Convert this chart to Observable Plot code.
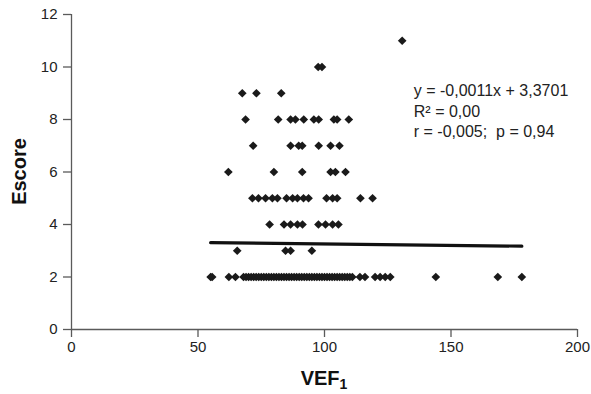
<!DOCTYPE html>
<html><head><meta charset="utf-8">
<script src="https://cdn.jsdelivr.net/npm/d3@7"></script>
<script src="https://cdn.jsdelivr.net/npm/@observablehq/plot@0.6"></script>
<style>body{margin:0;background:#fff} svg{display:block}</style>
</head><body><div id="chart"></div>
<script>
// VEF1 values for each Escore level
const vef_escore2 = [55, 55.6, 62.2, 64.8, 68, 69, 70, 71, 72, 73, 74, 75, 76, 77, 78, 79, 80, 81, 82, 83, 84, 85, 86, 87, 88, 89, 90, 91, 92, 93, 94, 95, 96, 97, 98, 99, 100, 101, 102, 103, 104, 105, 106, 107, 108, 109, 110, 111, 114, 116, 120, 122, 124, 126, 144, 168.5, 178];
const vef_escore3 = [65.5, 84.6, 86.6, 95];
const vef_escore4 = [78.3, 84, 86.6, 89.3, 91.3, 97.6, 100.4, 103.2, 105.5];
const vef_escore5 = [71.5, 73.9, 76.7, 79.4, 81.4, 85, 87.4, 89.3, 91.7, 93.7, 100.8, 103.2, 105, 114.2, 119];
const vef_escore6 = [62, 80, 91.2, 102.4, 104.3, 108.3];
const vef_escore7 = [71.8, 86.6, 89.8, 91.2, 97.7, 102.4, 105.9];
const vef_escore8 = [68.8, 81.7, 86.6, 88.5, 91.8, 95.8, 97.7, 103.7, 105, 109.6];
const vef_escore9 = [67.5, 73.1, 82.9];
const vef_escore10 = [97.5, 99];
const vef_escore11 = [130.7];

const escoreLevels = [2, 3, 4, 5, 6, 7, 8, 9, 10, 11];
const vefByLevel = [vef_escore2, vef_escore3, vef_escore4, vef_escore5, vef_escore6, vef_escore7, vef_escore8, vef_escore9, vef_escore10, vef_escore11];

// regression line
const fitSlope = -0.0011;
const fitIntercept = 3.3701;
const fitRange = [55, 178];

const xTicks = [0, 50, 100, 150, 200];
const yTicks = [0, 2, 4, 6, 8, 10, 12];
const annotationLines = ["y = -0,0011x + 3,3701", "R\u00B2 = 0,00", "r = -0,005;  p = 0,94"];
const xLabel = "VEF";
const xLabelSub = "1";
const yLabel = "Escore";

const points = escoreLevels.flatMap((s, i) => vefByLevel[i].map(v => ({vef: v, escore: s})));
const fit = fitRange.map(x => ({vef: x, escore: fitSlope * x + fitIntercept}));

const font = "'Liberation Sans', Arial, Helvetica, sans-serif";
const axisColor = "#5a5a5a";

const plot = Plot.plot({
  width: 591, height: 394,
  marginLeft: 71, marginRight: 14, marginTop: 14, marginBottom: 65,
  style: {fontFamily: font, fontSize: "15px", color: "#222", background: "#fff"},
  x: {domain: [0, 200]},
  y: {domain: [0, 12]},
  marks: [
    Plot.ruleY([0], {stroke: axisColor, strokeWidth: 1.3}),
    Plot.ruleX([0], {stroke: axisColor, strokeWidth: 1.3}),
    Plot.axisX({ticks: xTicks, tickSize: 8, tickPadding: 4, label: null, stroke: axisColor, strokeWidth: 1.3, fontSize: 15, fill: "#222"}),
    Plot.axisY({ticks: yTicks, tickSize: 8, tickPadding: 6, label: null, stroke: axisColor, strokeWidth: 1.3, fontSize: 15, fill: "#222"}),
    Plot.line(fit, {x: "vef", y: "escore", stroke: "#111", strokeWidth: 3.2}),
    Plot.dot(points, {x: "vef", y: "escore", symbol: "diamond2", r: 3.9, fill: "#1a1a1a", stroke: "none"}),
    Plot.text([annotationLines.join("\n")], {x: 135.3, y: 8.35, text: d => d, textAnchor: "start", lineAnchor: "middle", lineHeight: 1.28, fontSize: 16, fill: "#222"})
  ]
});

const svg = d3.select(plot);
const xs = plot.scale("x"), ys = plot.scale("y");
const xc = (xs.apply(0) + xs.apply(200)) / 2;
const yc = (ys.apply(0) + ys.apply(12)) / 2;

svg.append("text")
  .attr("transform", `translate(21,${yc}) rotate(-90)`)
  .attr("text-anchor", "middle")
  .attr("dominant-baseline", "middle")
  .attr("font-family", font).attr("font-weight", "bold").attr("font-size", 20).attr("fill", "#111")
  .text(yLabel);

const xl = svg.append("text")
  .attr("x", xc).attr("y", 385)
  .attr("text-anchor", "middle")
  .attr("font-family", font).attr("font-weight", "bold").attr("font-size", 20).attr("fill", "#111");
xl.append("tspan").text(xLabel);
xl.append("tspan").attr("dy", 4).attr("font-size", 14).text(xLabelSub);

document.getElementById("chart").appendChild(plot);
</script>
</body></html>
